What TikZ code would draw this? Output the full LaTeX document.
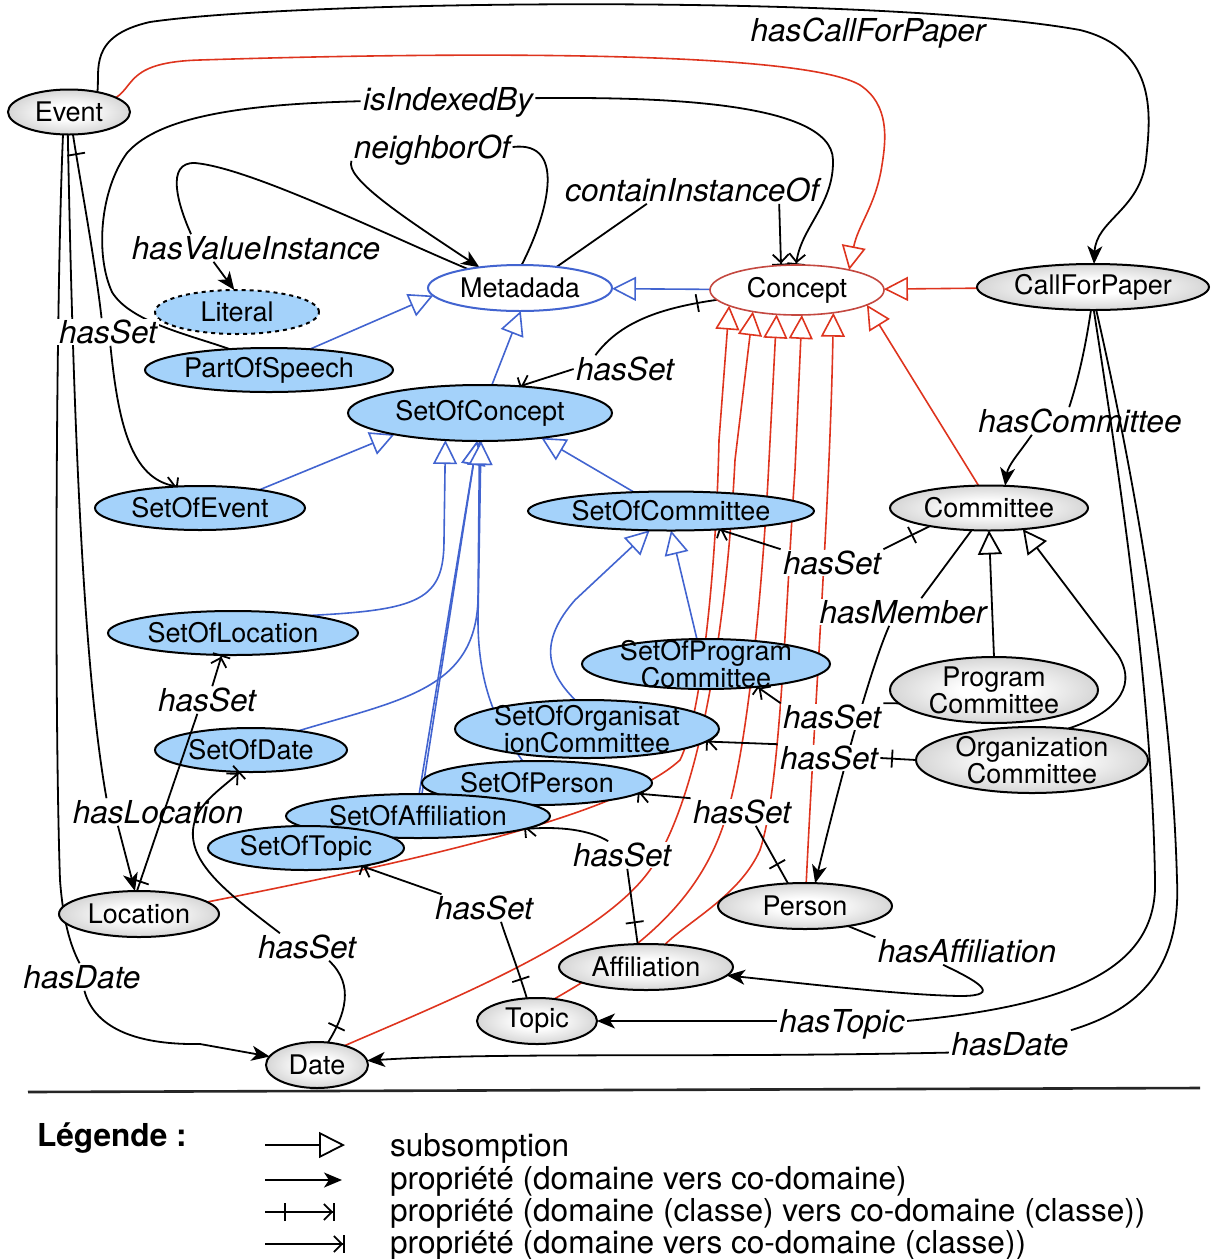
\documentclass[tikz,border=0pt]{standalone}
\usepackage{fontspec}
\setmainfont{TeX Gyre Heros}
\usetikzlibrary{shapes.geometric,arrows.meta,decorations.markings}
\definecolor{lblue}{RGB}{164,210,250}
\definecolor{myblue}{RGB}{66,100,208}
\definecolor{myred}{RGB}{222,52,30}
\definecolor{conred}{RGB}{196,72,64}
\colorlet{ballout}{black!40}
\pgfdeclareradialshading{grayball}{\pgfpoint{0bp}{0bp}}{color(0bp)=(white); color(8bp)=(white); color(50bp)=(ballout)}
\pgfdeclarelayer{bg}
\pgfsetlayers{bg,main}
\newcommand\nodefont{\fontsize{13.5}{13.5}\selectfont}
\newcommand\labfont{\fontsize{15.8}{18}\selectfont\itshape}
\newcommand\legfont{\fontsize{15.8}{18}\selectfont}
\tikzset{
 ellbase/.style={ellipse, inner sep=-8pt, outer sep=0pt, font=\nodefont, align=center, line width=1pt},
 gn/.style={ellbase, draw=black, shade, shading=grayball},
 bn/.style={ellbase, draw=black, fill=lblue},
 lab/.style={font=\labfont, inner sep=1pt, text height=11.4pt, text depth=0pt, fill=white},
 labnf/.style={font=\labfont, inner sep=1pt, text height=11.4pt, text depth=0pt},
 kline/.style={draw=black, line width=0.9pt},
 kprop/.style={kline, -{Stealth[length=9pt,width=7.5pt,inset=2.5pt]}},
 kpropc/.style={kline, -{Straight Barb[length=4pt,width=8pt,sep=0pt] Bar[width=9pt,sep=0pt]}},
 rsub/.style={draw=myred, line width=0.8pt, -{Triangle[length=12pt,width=12pt,fill=white]}},
 bsub/.style={draw=myblue, line width=0.8pt, -{Triangle[length=12pt,width=12pt,fill=white]}},
 ksub/.style={kline, -{Triangle[length=12pt,width=12pt,fill=white]}},
 dtick/.style={postaction={decorate}, decoration={markings, mark=at position #1 with {\draw[-] (0,-4.5pt) -- (0,4.5pt);}}},
 dtick/.default=10pt
}
\begin{document}
\begin{tikzpicture}[x=0.5pt,y=-0.5pt]
\useasboundingbox (0,0) rectangle (1211,1259);
% ---------------- nodes
\node[gn,minimum width=61pt,minimum height=22.5pt] (ev) at (69,112) {Event};
\node[bn,dash pattern=on 2pt off 2pt,minimum width=82pt,minimum height=22pt] (lit) at (237,312) {Literal};
\node[ellbase,draw=myblue,fill=white,minimum width=92pt,minimum height=23pt] (meta) at (520,288) {Metadada};
\node[ellbase,draw=conred,fill=white,line width=0.8pt,minimum width=87pt,minimum height=25pt] (conc) at (797,290) {Concept};
\node[gn,minimum width=116pt,minimum height=23pt] (cfp) at (1093,287) {CallForPaper};
\node[bn,minimum width=124pt,minimum height=22pt] (pos) at (269,370) {PartOfSpeech};
\node[bn,minimum width=132pt,minimum height=28pt] (soc) at (480,413) {SetOfConcept};
\node[bn,minimum width=105pt,minimum height=22pt] (soe) at (200,508) {SetOfEvent};
\node[bn,minimum width=143pt,minimum height=19.5pt] (socom) at (671,511) {SetOfCommittee};
\node[gn,minimum width=99pt,minimum height=22.5pt] (com) at (989,508) {Committee};
\node[bn,minimum width=125pt,minimum height=22pt] (sol) at (233,633) {SetOfLocation};
\node[bn,minimum width=124pt,minimum height=25pt] (sopc) at (706,664) {SetOfProgram\\Committee};
\node[gn,minimum width=104pt,minimum height=33pt] (pc) at (994,690) {Program\\Committee};
\node[bn,minimum width=132pt,minimum height=29pt] (sooc) at (587,729) {SetOfOrganisat\\ionCommittee};
\node[gn,minimum width=116pt,minimum height=33pt] (oc) at (1032,760) {Organization\\Committee};
\node[bn,minimum width=96pt,minimum height=22pt] (sod) at (251,750) {SetOfDate};
\node[bn,minimum width=115pt,minimum height=22pt] (sop) at (537,783) {SetOfPerson};
\node[bn,minimum width=132pt,minimum height=22pt] (soa) at (418,816) {SetOfAffiliation};
\node[bn,minimum width=98pt,minimum height=22pt] (sot) at (306,848) {SetOfTopic};
\node[gn,minimum width=80pt,minimum height=23pt] (loc) at (139,914) {Location};
\node[gn,minimum width=87pt,minimum height=23pt] (per) at (805,906) {Person};
\node[gn,minimum width=87pt,minimum height=23pt] (aff) at (646,967) {Affiliation};
\node[gn,minimum width=60pt,minimum height=23pt] (topic) at (537,1021) {Topic};
\node[gn,minimum width=51pt,minimum height=23pt] (date) at (317,1065) {Date};
% ---------------- labels
\node[labnf] (lcfp) at (868,30) {hasCallForPaper};
\node[lab] (lidx) at (448,99) {isIndexedBy};
\node[lab] (lnbr) at (432,147) {neighborOf};
\node[lab] (lcio) at (692,190) {containInstanceOf};
\node[lab] (lhvi) at (256,248) {hasValueInstance};
\node[lab] (lhs1) at (108,332) {hasSet};
\node[lab] (lhs2) at (625,369) {hasSet};
\node[labnf] (lhcm) at (1080,421) {hasCommittee};
\node[lab] (lhs10) at (832,563) {hasSet};
\node[lab] (lhm) at (903,612) {hasMember};
\node[lab] (lhs3) at (207,700) {hasSet};
\node[lab] (lhs9) at (832,717) {hasSet};
\node[lab] (lhs8) at (829,758) {hasSet};
\node[labnf] (lhloc) at (158,812) {hasLocation};
\node[lab] (lhs7) at (742,812) {hasSet};
\node[lab] (lhs6) at (622,855) {hasSet};
\node[lab] (lhs5) at (484,908) {hasSet};
\node[lab] (lha) at (967,951) {hasAffiliation};
\node[lab] (lhs4) at (307,947) {hasSet};
\node[lab] (lhd1) at (82,977) {hasDate};
\node[lab] (lhtop) at (842,1021) {hasTopic};
\node[lab] (lhd2) at (1010,1044) {hasDate};
% ---------------- edges (background)
\begin{pgfonlayer}{bg}
% red subsumptions
\draw[rsub] (ev.17) .. controls (135,85) and (128,62) .. (200,60) .. controls (450,52) and (800,50) .. (860,85) .. controls (890,105) and (886,140) .. (882,165) .. controls (876,205) and (858,225) .. (conc.21);
\draw[rsub] (cfp) -- (conc);
\draw[rsub] (com.115) -- (conc.-12);
\draw[rsub] (loc.10) .. controls (420,860) and (620,815) .. (680,760) .. controls (700,720) and (716,580) .. (719,440) -- (conc.-167);
\draw[rsub] (date.35) .. controls (450,1000) and (600,940) .. (650,870) .. controls (705,790) and (728,600) .. (735,460) -- (conc.-154);
\draw[rsub] (topic.52) .. controls (640,950) and (700,900) .. (725,820) .. controls (745,760) and (760,620) .. (768,480) -- (conc.-130);
\draw[rsub] (aff.50) .. controls (690,920) and (740,895) .. (760,850) .. controls (780,790) and (785,620) .. (795,470) -- (conc.-79);
\draw[rsub] (per.87) .. controls (815,700) and (830,500) .. (conc.-32);
% blue subsumptions
\draw[bsub] (conc) -- (meta);
\draw[bsub] (pos.27) -- (meta.-175);
\draw[bsub] (soc.67) -- (meta.-88);
\draw[bsub] (soe.17) -- (soc.-166);
\draw[bsub] (socom.153) -- (soc.-22);
\draw[bsub] (sol.13) .. controls (420,610) and (444,600) .. (444,540) -- (soc.-142);
\draw[bsub] (sod.22) .. controls (400,700) and (475,690) .. (478,600) -- (soc.-91);
\draw[bsub] (sot.40) -- (421,800) -- (soc.-96);
\draw[bsub] (soa.87) -- (soc.-96);
\draw[bsub] (sop.123) .. controls (500,730) and (478,690) .. (478,620) -- (soc.-88);
\draw[bsub] (sooc.112) .. controls (545,670) and (540,640) .. (575,600) -- (socom.-138);
\draw[bsub] (sopc.110) -- (socom.-90);
% black subsumptions
\draw[ksub] (pc.90) -- (com.-90);
\draw[ksub] (oc.41) .. controls (1110,715) and (1140,690) .. (1118,655) -- (com.-32);
% properties
\draw[kprop] (ev.35) .. controls (100,70) and (88,36) .. (150,22) .. controls (300,0) and (880,-6) .. (1080,30) .. controls (1160,50) and (1150,120) .. (1146,160) .. controls (1140,210) and (1096,220) .. (cfp);
\draw[kline] (pos.152) .. controls (190,335) and (130,322) .. (112,292) .. controls (95,255) and (100,190) .. (127,153) .. controls (160,115) and (250,104) .. (lidx);
\draw[kpropc] (lidx) .. controls (650,97) and (832,100) .. (833,160) .. controls (834,205) and (800,228) .. (conc.92);
\draw[kline] (meta.160) .. controls (380,232) and (250,168) .. (195,163) .. controls (165,162) and (178,205) .. (lhvi.168);
\draw[kprop] (lhvi.-162) -- (lit.97);
\draw[kline] (meta.86) .. controls (545,220) and (570,140) .. (lnbr.east);
\draw[kprop] (lnbr.south west) .. controls (345,178) and (400,215) .. (meta.153);
\draw[kline] (meta.30) -- (lcio.-163);
\draw[kpropc] (lcio.-9) -- (conc.123);
\draw[kline,dtick=10pt] (conc.-173) .. controls (660,308) and (620,322) .. (lhs2.155);
\draw[kpropc] (lhs2.west) -- (soc.34);
\draw[kline,dtick=10pt] (ev.-80) .. controls (80,180) and (95,260) .. (lhs1.115);
\draw[kpropc] (lhs1.-80) .. controls (118,420) and (130,480) .. (soe.136);
\draw[kline] (ev.-93) .. controls (72,350) and (80,650) .. (lhloc.165);
\draw[kprop] (lhloc.-161) -- (loc.100);
\draw[kline] (ev.-105) .. controls (56,300) and (54,700) .. (60,880) .. controls (63,920) and (70,945) .. (lhd1.100);
\draw[kprop] (lhd1.-80) .. controls (95,1030) and (140,1045) .. (200,1044) -- (date);
\draw[kline,dtick=10pt] (topic.114) .. controls (515,960) and (505,935) .. (lhs5.-39);
\draw[kpropc] (lhs5.162) -- (sot.-18);
\draw[kline,dtick=11pt] (aff.110) -- (lhs6.-69);
\draw[kpropc] (lhs6.135) .. controls (590,830) and (560,826) .. (soa.-7);
\draw[kline,dtick=11pt] (per.127) -- (lhs7.-45);
\draw[kpropc] (lhs7.north west) -- (sop.-6);
\draw[kline,dtick=12pt] (oc.west) -- (lhs8.east);
\draw[kpropc] (lhs8.north west) -- (sooc.-6);
\draw[kline] (pc.-172) -- (lhs9.north east);
\draw[kpropc] (lhs9.north west) -- (sopc.-24);
\draw[kline,dtick=10pt] (com.-163) -- (lhs10.north east);
\draw[kpropc] (lhs10.north west) -- (socom.-21);
\draw[kline] (com.-128) -- (lhm.37);
\draw[kprop] (lhm.-135) .. controls (872,665) and (845,760) .. (per.66);
\draw[kline] (cfp.-95) .. controls (1085,350) and (1078,380) .. (lhcm.128);
\draw[kprop] (lhcm.-164) .. controls (1020,452) and (1008,465) .. (com.54);
\draw[kline] (cfp.-88) .. controls (1120,480) and (1152,690) .. (1155,880) .. controls (1158,965) and (1080,1005) .. (lhtop.east);
\draw[kprop] (lhtop) -- (topic);
\draw[kline] (cfp.-82) .. controls (1135,480) and (1172,690) .. (1177,880) .. controls (1182,985) and (1120,1015) .. (lhd2.north east);
\draw[kprop] (lhd2.-172) .. controls (700,1058) and (500,1052) .. (date.5);
\draw[kline] (per.-25) -- (lha.north west);
\draw[kprop] (lha.-150) .. controls (975,980) and (1005,996) .. (960,996) .. controls (900,995) and (800,983) .. (aff);
\end{pgfonlayer}
% ---------------- edges drawn over nodes
\draw[kline,dtick=5pt] (loc.95) -- (lhs3.-125);
\draw[kpropc] (lhs3.69) -- (sol.-117);
\draw[kline,dtick=9pt] (date.64) .. controls (345,1015) and (355,985) .. (lhs4.-32);
\draw[kpropc] (lhs4.153) .. controls (230,895) and (190,865) .. (193,830) .. controls (195,805) and (220,790) .. (sod.-117);
% ---------------- legend
\draw[line width=1.3pt, black!85] (28,1092) -- (1200,1088);
\node[font=\legfont\bfseries, anchor=west] (legt) at (30,1138) {Légende :};
\coordinate (la1) at (265,1145); \coordinate (lb1) at (345,1145);
\coordinate (la2) at (265,1180); \coordinate (lb2) at (342,1180);
\coordinate (la3) at (265,1212); \coordinate (lb3) at (335,1212);
\coordinate (la4) at (265,1244); \coordinate (lb4) at (345,1244);
\draw[kline, -{Triangle[length=13pt,width=13pt,fill=white]}] (la1) -- (lb1);
\draw[kprop] (la2) -- (lb2);
\draw[kpropc,dtick=10pt] (la3) -- (lb3);
\draw[kpropc] (la4) -- (lb4);
\node[font=\legfont, anchor=west] (lt1) at (383,1148) {subsomption};
\node[font=\legfont, anchor=west] (lt2) at (383,1181) {propriété (domaine vers co-domaine)};
\node[font=\legfont, anchor=west] (lt3) at (383,1213) {propriété (domaine (classe) vers co-domaine (classe))};
\node[font=\legfont, anchor=west] (lt4) at (383,1245) {propriété (domaine vers co-domaine (classe))};
\end{tikzpicture}
\end{document}
